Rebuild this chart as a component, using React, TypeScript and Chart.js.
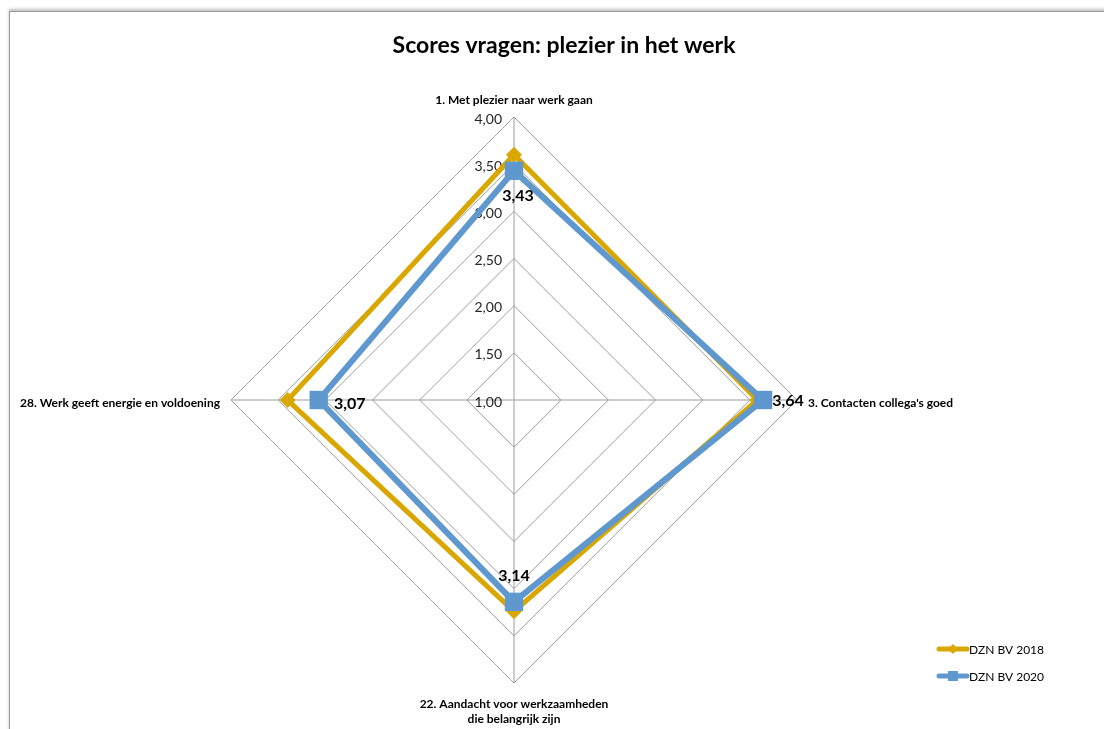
import React, { useEffect, useRef } from 'react';
import { Chart, registerables } from 'chart.js';

Chart.register(...registerables);

// ---- data ----
const chartTitle = 'Scores vragen: plezier in het werk';
const categories: (string | string[])[] = [
  '1. Met plezier naar werk gaan',
  "3. Contacten collega's goed",
  ['22. Aandacht voor werkzaamheden', 'die belangrijk zijn'],
  '28. Werk geeft energie en voldoening',
];
const seriesNames = ['DZN BV 2018', 'DZN BV 2020'];
const values2018 = [3.6, 3.58, 3.24, 3.4];
const values2020 = [3.43, 3.64, 3.14, 3.07];
const scaleMin = 1;
const scaleMax = 4;
const scaleStep = 0.5;

// ---- styles ----
const FONT = 'Lato, "Open Sans", "DejaVu Sans", sans-serif';
const COLOR_2018 = '#D9A700';
const COLOR_2020 = '#5F98CF';
const GRID = '#9C9C9C';

const fmt = (v: number) => v.toFixed(2).replace('.', ',');

// data label offsets (relative to point) for the 2020 series
const dlOffsets = [
  [4, 25],
  [25, 1],
  [0, -26],
  [31, 4],
];

const customPlugin = {
  id: 'customDraw',
  beforeDatasetsDraw(chart: any) {
    const ctx = chart.ctx as CanvasRenderingContext2D;
    const scale = chart.scales.r;
    ctx.save();
    ctx.font = `14px ${FONT}`;
    ctx.fillStyle = '#262626';
    ctx.textAlign = 'right';
    ctx.textBaseline = 'middle';
    scale.ticks.forEach((t: any) => {
      const d = scale.getDistanceFromCenterForValue(t.value);
      ctx.fillText(fmt(t.value), scale.xCenter - 12, scale.yCenter - d + 2);
    });
    ctx.restore();
  },
  afterDraw(chart: any) {
    const ctx = chart.ctx as CanvasRenderingContext2D;
    const scale = chart.scales.r;
    ctx.save();

    // title
    ctx.font = `bold 23px ${FONT}`;
    ctx.fillStyle = '#000';
    ctx.textAlign = 'center';
    ctx.textBaseline = 'middle';
    ctx.fillText(chartTitle, 564, 46);

    // point labels
    ctx.font = `bold 12px ${FONT}`;
    ctx.fillStyle = '#000';
    const gaps = [17, 11, 21, 11];
    categories.forEach((lab, i) => {
      const p = scale.getPointPosition(i, scale.drawingArea + gaps[i]);
      const lines = Array.isArray(lab) ? lab : [lab];
      if (i === 0) {
        ctx.textAlign = 'center';
        ctx.fillText(lines[0], p.x, p.y);
      } else if (i === 1) {
        ctx.textAlign = 'left';
        ctx.fillText(lines[0], p.x, p.y + 3);
      } else if (i === 2) {
        ctx.textAlign = 'center';
        lines.forEach((ln, k) => ctx.fillText(ln, p.x, p.y + k * 15));
      } else {
        ctx.textAlign = 'right';
        ctx.fillText(lines[0], p.x, p.y + 3);
      }
    });

    // data labels (2020)
    const meta = chart.getDatasetMeta(1);
    ctx.font = `bold 16px ${FONT}`;
    ctx.fillStyle = '#000';
    ctx.textAlign = 'center';
    ctx.textBaseline = 'middle';
    meta.data.forEach((el: any, i: number) => {
      ctx.fillText(fmt(values2020[i]), el.x + dlOffsets[i][0], el.y + dlOffsets[i][1]);
    });

    // legend
    const items = [
      { name: seriesNames[0], color: COLOR_2018, marker: 'diamond', y: 649 },
      { name: seriesNames[1], color: COLOR_2020, marker: 'square', y: 676 },
    ];
    items.forEach((it) => {
      ctx.strokeStyle = it.color;
      ctx.fillStyle = it.color;
      ctx.lineWidth = 5;
      ctx.lineCap = 'round';
      ctx.beginPath();
      ctx.moveTo(939, it.y);
      ctx.lineTo(967, it.y);
      ctx.stroke();
      ctx.beginPath();
      if (it.marker === 'diamond') {
        ctx.moveTo(953, it.y - 5);
        ctx.lineTo(958, it.y);
        ctx.lineTo(953, it.y + 5);
        ctx.lineTo(948, it.y);
      } else {
        ctx.rect(948, it.y - 5, 10, 10);
      }
      ctx.closePath();
      ctx.fill();
      ctx.font = `12px ${FONT}`;
      ctx.fillStyle = '#000';
      ctx.textAlign = 'left';
      ctx.textBaseline = 'middle';
      ctx.fillText(it.name, 969, it.y + 1);
    });

    ctx.restore();
  },
};

export default function App() {
  const ref = useRef<HTMLCanvasElement | null>(null);

  useEffect(() => {
    if (!ref.current) return;
    const chart = new Chart(ref.current, {
      type: 'radar',
      data: {
        labels: categories as any,
        datasets: [
          {
            label: seriesNames[0],
            data: values2018,
            borderColor: COLOR_2018,
            backgroundColor: COLOR_2018,
            borderWidth: 5,
            fill: false,
            pointStyle: 'rectRot',
            pointRadius: 8,
            pointBorderWidth: 0,
            pointBackgroundColor: COLOR_2018,
            order: 1,
          },
          {
            label: seriesNames[1],
            data: values2020,
            borderColor: COLOR_2020,
            backgroundColor: COLOR_2020,
            borderWidth: 6,
            fill: false,
            pointStyle: 'rect',
            pointRadius: 13,
            pointBorderWidth: 0,
            pointBackgroundColor: COLOR_2020,
            order: 0,
          },
        ],
      },
      options: {
        responsive: false,
        animation: false,
        devicePixelRatio: 1,
        layout: { padding: { left: 231, right: 307, top: 117, bottom: 46 } },
        plugins: {
          legend: { display: false },
          title: { display: false },
          tooltip: { enabled: false },
        },
        elements: { line: { tension: 0, borderJoinStyle: 'miter' } },
        scales: {
          r: {
            min: scaleMin,
            max: scaleMax,
            ticks: { stepSize: scaleStep, display: false },
            grid: { color: GRID, lineWidth: 1 },
            angleLines: { color: GRID, lineWidth: 1 },
            pointLabels: { display: false },
          },
        },
      },
      plugins: [customPlugin],
    });
    return () => chart.destroy();
  }, []);

  return (
    <div style={{ position: 'fixed', left: 0, top: 0, width: 1104, height: 729, background: '#fff', overflow: 'hidden' }}>
      <div
        style={{
          position: 'absolute',
          left: 9,
          top: 11,
          width: 1200,
          height: 800,
          borderLeft: '1px solid #9a9a9a',
          borderTop: '1px solid #9a9a9a',
          boxShadow: '0 -2px 3px rgba(0,0,0,0.25)',
        }}
      />
      <canvas ref={ref} width={1104} height={729} style={{ position: 'absolute', left: 0, top: 0 }} />
    </div>
  );
}
